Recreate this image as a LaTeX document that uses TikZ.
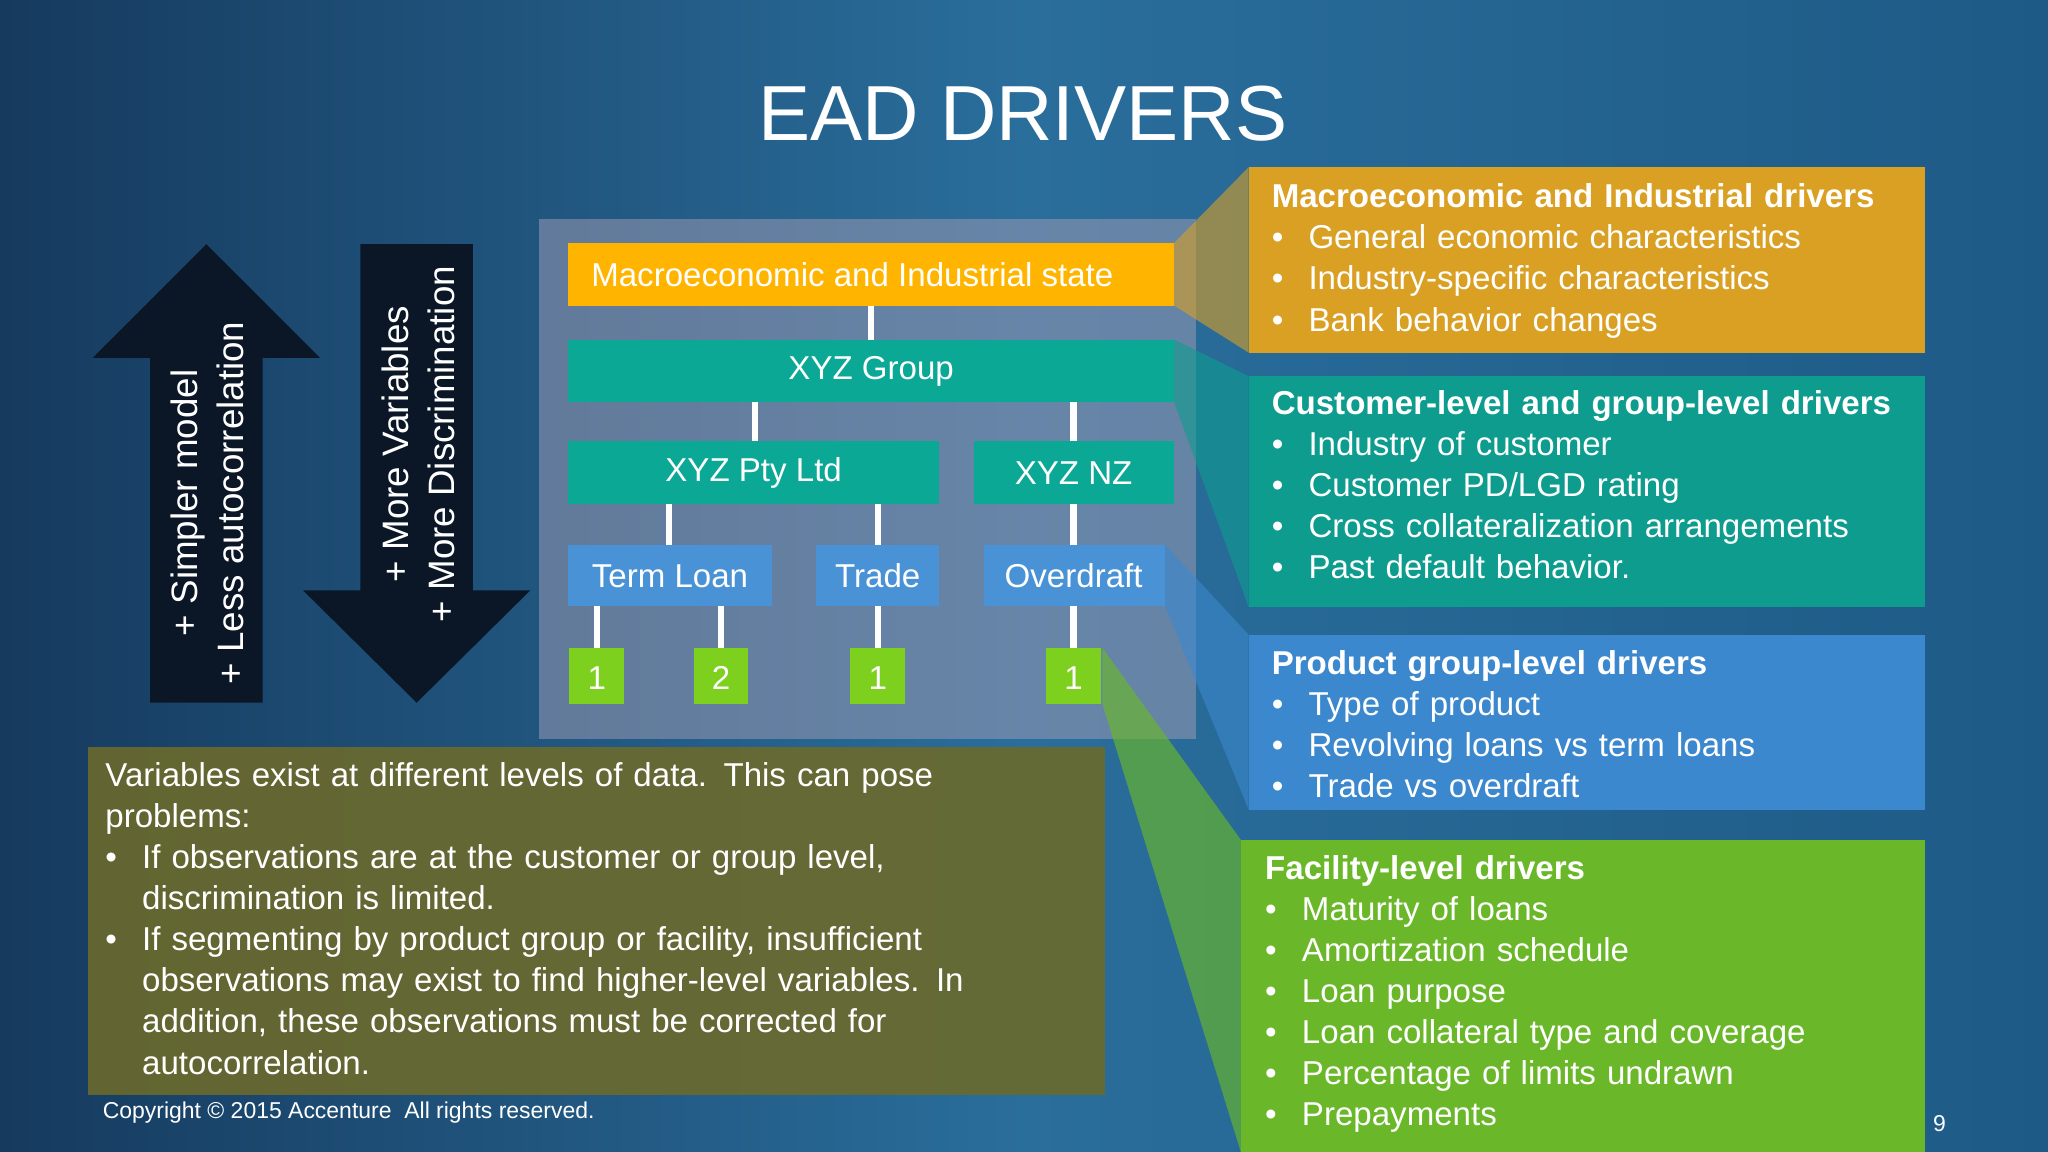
\documentclass[tikz,border=0pt]{standalone}
\usepackage{fontspec}
\setmainfont{Liberation Sans}
\usetikzlibrary{shadings}
\definecolor{orng}{HTML}{FFB400}
\definecolor{teal1}{HTML}{0BA896}
\definecolor{blue1}{HTML}{4A92D6}
\definecolor{grn}{HTML}{7DD11E}
\definecolor{rorng}{HTML}{D9A024}
\definecolor{rteal}{HTML}{0E9C8F}
\definecolor{rblue}{HTML}{3C88CE}
\definecolor{rgrn}{HTML}{6AB82A}
\definecolor{olive}{HTML}{6B6A2C}
\definecolor{bgl}{HTML}{163A5E}
\definecolor{bgm}{HTML}{2A6E9C}
\definecolor{bgr}{HTML}{1E5A86}
\definecolor{arr}{HTML}{0B1726}
\newcommand{\bul}{\makebox[8pt][l]{\textbullet}}
\begin{document}
\begin{tikzpicture}[x=0.01cm,y=-0.01cm,
  txt/.style={text=white,font=\fontsize{7.2pt}{8.95pt}\selectfont},
  box/.style={txt,inner sep=0,draw=none},
  conn/.style={white,line width=1.4pt},
  rbox/.style={txt,anchor=north west,align=left,inner sep=0,text width=14cm}]
\shade[left color=bgl, right color=bgr, middle color=bgm] (0,0) rectangle (1568,882);
\useasboundingbox (0,0) rectangle (1568,882);
\node[text=white,font=\fontsize{17pt}{20pt}\selectfont] (title) at (783,87) {EAD DRIVERS};
% panel
\fill[white!75!blue!40!gray,opacity=0.55] (413,168) rectangle (916,566);
% callout wedges
\fill[rorng,opacity=0.6] (899,186) -- (956,128) -- (956,270) -- (899,234) -- cycle;
\fill[rteal,opacity=0.6] (899,260) -- (956,288) -- (956,465) -- (899,308) -- cycle;
\fill[rblue,opacity=0.6] (892,417) -- (956,486) -- (956,620) -- (892,464) -- cycle;
% olive box
\fill[olive,opacity=0.9] (67,572) rectangle (846,838);
\fill[rgrn,opacity=0.65] (844,496) -- (950,643) -- (950,882) -- (844,539) -- cycle;
% tree
\fill[orng] (435,186) rectangle (899,234);
\node[box,anchor=west] (macro) at (452,210) {Macroeconomic and Industrial state};
\coordinate (macroB) at (667,234);
\fill[teal1] (435,260) rectangle (899,308);
\node[box] (grp) at (667,284) {XYZ Group};
\fill[teal1] (435,338) rectangle (719,386);
\node[box] (pty) at (577,362) {XYZ Pty Ltd};
\fill[teal1] (746,338) rectangle (899,386);
\node[box] (nz) at (822,362) {XYZ NZ};
\fill[blue1] (435,417) rectangle (591,464);
\node[box] (tl) at (513,441) {Term Loan};
\fill[blue1] (625,417) rectangle (719,464);
\node[box] (tr) at (672,441) {Trade};
\fill[blue1] (753,417) rectangle (892,464);
\node[box] (od) at (822,441) {Overdraft};
\foreach \n/\x/\t in {a/457/1,b/552/2,c/672/1,d/822/1}{
  \fill[grn] (\x-21,496) rectangle (\x+21,539);
  \node[box] (g\n) at (\x,519) {\t};
}
\coordinate (grpT) at (667,260);
\draw[conn] (macroB) -- (grpT);
\draw[conn] (578,308) -- (578,338);
\draw[conn] (822,308) -- (822,338);
\draw[conn] (512,386) -- (512,417);
\draw[conn] (672,386) -- (672,417);
\draw[conn] (822,386) -- (822,417);
\draw[conn] (457,464) -- (457,496);
\draw[conn] (552,464) -- (552,496);
\draw[conn] (672,464) -- (672,496);
\draw[conn] (822,464) -- (822,496);
% arrows
\fill[arr] (115,538) -- (115,274) -- (71,274) -- (158,187) -- (245,274) -- (201,274) -- (201,538) -- cycle;
\fill[arr] (276,187) -- (276,452) -- (232,452) -- (319,538) -- (406,452) -- (362,452) -- (362,187) -- cycle;
\node[txt,rotate=90,align=center,font=\fontsize{8pt}{10pt}\selectfont] (up) at (159,385) {+ Simpler model\\+ Less autocorrelation};
\node[txt,rotate=90,align=center,font=\fontsize{8pt}{10pt}\selectfont] (dn) at (320,340) {+ More Variables\\+ More Discrimination};
% right boxes
\fill[rorng] (956,128) rectangle (1474,270);
\node[rbox] (r1) at (973,140) {\textbf{Macroeconomic and Industrial drivers}\\
 \bul General economic characteristics\\
 \bul Industry-specific characteristics\\
 \bul Bank behavior changes};
\fill[rteal] (956,288) rectangle (1474,465);
\node[rbox] (r2) at (973,298) {\textbf{Customer-level and group-level drivers}\\
 \bul Industry of customer\\
 \bul Customer PD/LGD rating\\
 \bul Cross collateralization arrangements\\
 \bul Past default behavior.};
\fill[rblue] (956,486) rectangle (1474,620);
\node[rbox] (r3) at (973,497) {\textbf{Product group-level drivers}\\
 \bul Type of product\\
 \bul Revolving loans vs term loans\\
 \bul Trade vs overdraft};
\fill[rgrn] (950,643) rectangle (1474,882);
\node[rbox] (r4) at (968,654) {\textbf{Facility-level drivers}\\
 \bul Maturity of loans\\
 \bul Amortization schedule\\
 \bul Loan purpose\\
 \bul Loan collateral type and coverage\\
 \bul Percentage of limits undrawn\\
 \bul Prepayments};
\node[rbox] (ol) at (80,583) {Variables exist at different levels of data. This can pose\\problems:\\
 \bul If observations are at the customer or group level,\\
 \hspace{8pt}discrimination is limited.\\
 \bul If segmenting by product group or facility, insufficient\\
 \hspace{8pt}observations may exist to find higher-level variables. In\\
 \hspace{8pt}addition, these observations must be corrected for\\
 \hspace{8pt}autocorrelation.};
\node[txt,anchor=west,inner sep=0,font=\fontsize{5pt}{6pt}\selectfont] (copy) at (78,852) {Copyright © 2015 Accenture\ \ All rights reserved.};
\node[txt,font=\fontsize{5pt}{6pt}\selectfont] (pg) at (1485,860) {9};
\end{tikzpicture}
\end{document}
